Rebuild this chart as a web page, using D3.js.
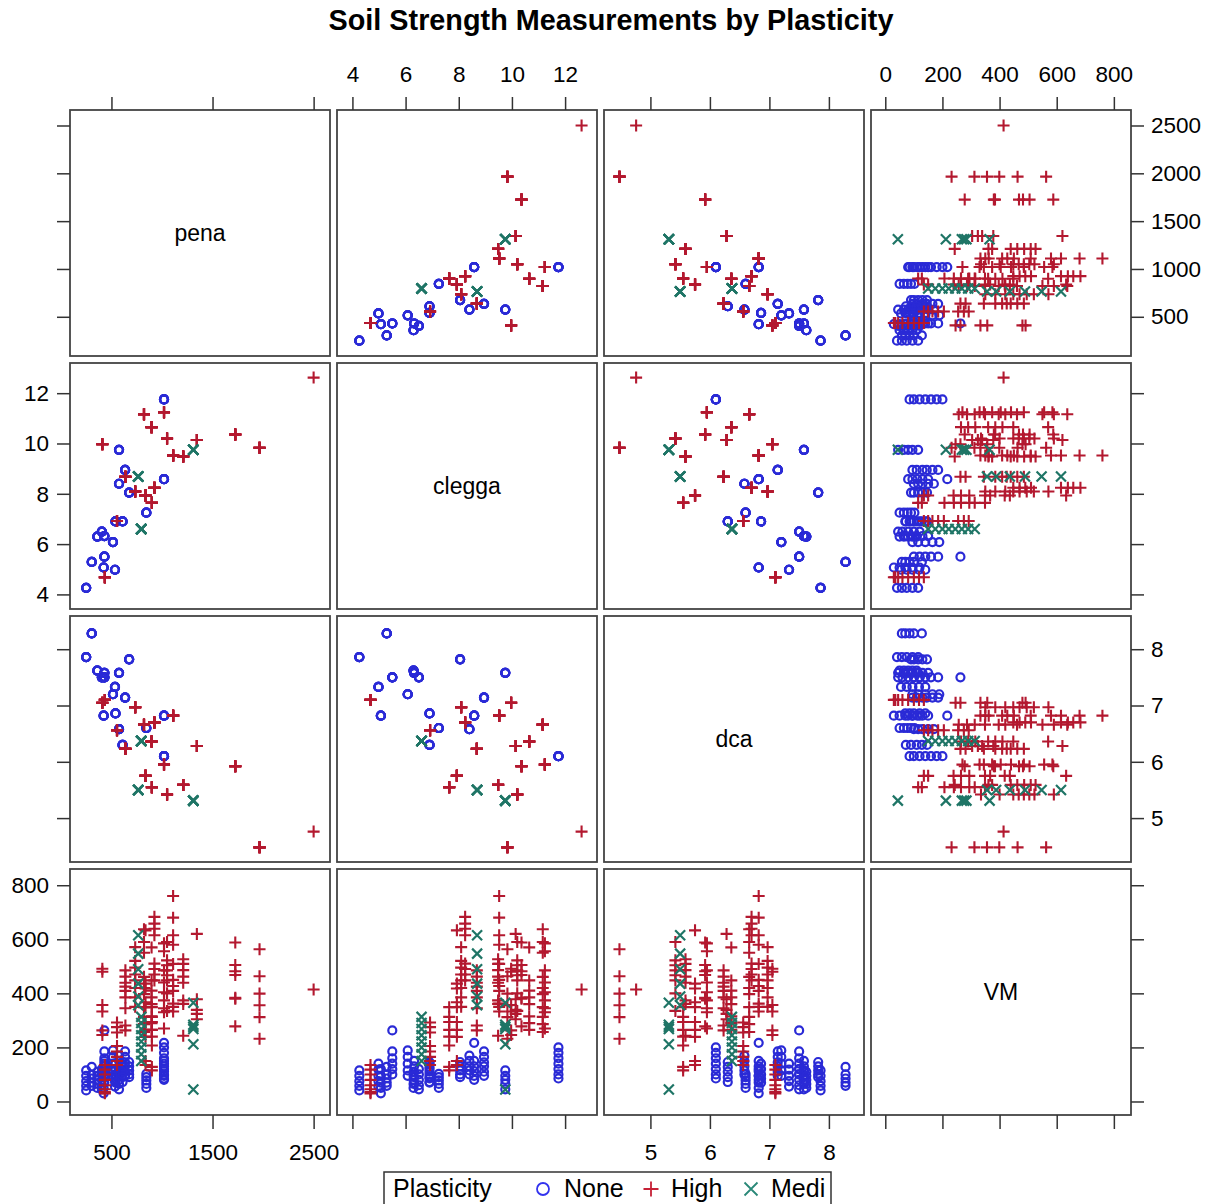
<!DOCTYPE html>
<html>
<head>
<meta charset="utf-8">
<script src="https://cdn.jsdelivr.net/npm/d3@7"></script>
<style>
  body { margin: 0; background: #fff; }
  text { font-family: "Liberation Sans", Arial, sans-serif; }
</style>
</head>
<body>
<script>
// ---------------------------------------------------------------
// Data: one entry per soil site, VM holds the repeated vane readings
// ---------------------------------------------------------------
var varNames = ["pena", "clegga", "dca", "VM"];
var groups = ["None", "High", "Medi"];

var sitePlast = [
  "None","None","None","None","None","None","None","None","None",
  "None","None","None","None","None","None","None","None","None",
  "High","High","High","High","High","High","High","High","High",
  "High","High","High","High","High","High","High","High","High",
  "Medi","Medi","Medi"
];
var sitePena = [
  1020, 1020, 845, 675, 575, 635, 575, 610, 540,
  535, 423, 430, 305, 250, 515, 430, 405, 360,
  2500, 1965, 1725, 1345, 1210, 1110, 1050, 1020, 897,
  822, 900, 925, 837, 735, 638, 555, 435, 410,
  1310, 795, 765
];
var siteClegga = [
  8.58, 11.75, 7.25, 8.05, 8.40, 8.95, 9.75, 6.90, 6.90,
  4.98, 5.07, 5.50, 5.29, 4.26, 6.08, 6.32, 6.50, 6.30,
  12.62, 9.83, 10.36, 10.14, 9.48, 9.52, 10.20, 11.24, 10.65,
  11.16, 7.64, 8.24, 7.93, 8.09, 8.68, 6.92, 4.68, 9.97,
  9.75, 6.60, 8.69
];
var siteDca = [
  6.82, 6.10, 6.60, 7.82, 6.58, 7.14, 7.58, 6.30, 6.86,
  7.33, 6.82, 7.50, 8.28, 7.86, 7.20, 7.58, 7.50, 7.62,
  4.76, 4.48, 5.92, 6.28, 5.59, 6.82, 5.42, 5.95, 6.36,
  6.66, 5.55, 6.70, 5.75, 6.97, 6.23, 6.56, 7.10, 7.05,
  5.31, 6.37, 5.50
];
var siteVM = [
  [217, 150, 130, 112, 95, 80],
  [200, 180, 160, 140, 120, 100, 85],
  [102, 90, 78, 65, 50],
  [146, 130, 115, 100, 90],
  [170, 150, 130, 115, 100],
  [185, 165, 145, 130, 110, 95],
  [115, 95, 80, 65, 45],
  [146, 128, 110, 90, 72],
  [140, 120, 100, 85, 70],
  [140, 118, 95, 75, 55],
  [120, 95, 70, 50, 30],
  [263, 185, 160, 140, 120, 100],
  [128, 100, 85, 70, 58],
  [115, 95, 75, 58, 41],
  [189, 165, 140, 115, 95],
  [150, 130, 110, 90, 70],
  [120, 100, 80, 60, 45],
  [110, 95, 80, 65, 50],
  [414],
  [563, 463, 399, 356, 312, 232],
  [278, 380, 384, 468, 482, 505, 588],
  [304, 324, 339, 378, 620],
  [243, 361, 374, 439, 462, 486, 509, 526],
  [333, 350, 362, 409, 427, 450, 509, 580, 615, 680, 760],
  [335, 400, 448, 467, 485, 504, 522, 590],
  [270, 330, 345, 374, 404, 440, 485, 556, 585],
  [265, 290, 315, 360, 385, 410, 448, 570],
  [257, 286, 313, 349, 397, 420, 461, 550, 590, 637],
  [115, 128, 207, 240, 265, 294, 313, 349],
  [448, 470, 490, 510, 615, 639, 658, 683],
  [135, 150, 239, 265, 294, 349, 367, 418, 436, 633],
  [350, 385, 420, 448, 470, 495, 520, 571],
  [263, 281, 345, 385, 409, 425, 439, 462, 485],
  [135, 150, 165, 185, 205, 255, 275, 292],
  [30, 35, 45, 60, 80, 100, 118, 135],
  [246, 263, 333, 357, 480, 491],
  [44, 212, 268, 276, 284, 365],
  [150, 175, 200, 222, 245, 268, 290, 313],
  [356, 388, 436, 489, 547, 615]
];

// axis ranges and tick values
var varDomains = [[90, 2662], [3.42, 13.2], [4.22, 8.59], [-50, 860]];
var ticksX = [[500, 1500, 2500], [4, 6, 8, 10, 12], [5, 6, 7, 8], [0, 200, 400, 600, 800]];
var ticksY = [[500, 1000, 1500, 2000, 2500], [4, 6, 8, 10, 12], [5, 6, 7, 8], [0, 200, 400, 600, 800]];

// expand sites into observations
var data = [];
sitePlast.forEach(function(p, k) {
    siteVM[k].forEach(function(v) {
        data.push({ Plasticity: p, pena: sitePena[k], clegga: siteClegga[k], dca: siteDca[k], VM: v });
    });
});

//================================================================
//  LAYOUT
//================================================================
var W = 1214, H = 1204;
var mLeft = 70, mTop = 110, pw = 260, ph = 246, gap = 7;

var colors = { None: "#2a2ad6", High: "#b3182f", Medi: "#1f7566" };

var svg = d3.select("body").append("svg")
    .attr("width", W)
    .attr("height", H);

svg.append("text")
    .attr("x", 611)
    .attr("y", 30)
    .attr("text-anchor", "middle")
    .style("font-size", "28.8px")
    .style("font-weight", "bold")
    .text("Soil Strength Measurements by Plasticity");

var sx = varDomains.map(function(d) { return d3.scaleLinear().domain(d).range([0, pw]); });
var sy = varDomains.map(function(d) { return d3.scaleLinear().domain(d).range([ph, 0]); });

function px(j) { return mLeft + j * (pw + gap); }
function py(i) { return mTop + i * (ph + gap); }

// marker drawing
function drawMarker(sel, grp) {
    if (grp == "None") {
        sel.append("circle").attr("r", 4)
            .attr("fill", "none").attr("stroke", colors.None).attr("stroke-width", 2.2);
    } else if (grp == "High") {
        sel.append("path").attr("d", "M-6,0H6M0,-6V6")
            .attr("fill", "none").attr("stroke", colors.High).attr("stroke-width", 2.1);
    } else {
        sel.append("path").attr("d", "M-5,-5L5,5M-5,5L5,-5")
            .attr("fill", "none").attr("stroke", colors.Medi).attr("stroke-width", 2.2);
    }
}

// panels
for (var i = 0; i < 4; i++) {
    for (var j = 0; j < 4; j++) {
        var g = svg.append("g").attr("transform", "translate(" + px(j) + "," + py(i) + ")");
        if (i == j) {
            g.append("text")
                .attr("x", pw / 2)
                .attr("y", ph / 2)
                .attr("dy", "0.35em")
                .attr("text-anchor", "middle")
                .style("font-size", "23px")
                .text(varNames[i]);
        } else {
            groups.forEach(function(grp) {
                var pts = data.filter(function(d) { return d.Plasticity == grp; });
                g.selectAll(null)
                    .data(pts)
                    .join("g")
                    .attr("transform", function(d) {
                        return "translate(" + sx[j](d[varNames[j]]) + "," + sy[i](d[varNames[i]]) + ")";
                    })
                    .each(function() { drawMarker(d3.select(this), grp); });
            });
        }
        g.append("rect")
            .attr("width", pw)
            .attr("height", ph)
            .attr("fill", "none")
            .attr("stroke", "#444")
            .attr("stroke-width", 1.8);
    }
}

// axes
function styleAxis(g) {
    g.select(".domain").remove();
    g.selectAll(".tick line").attr("stroke", "#333").attr("stroke-width", 1.5);
    g.selectAll(".tick text").attr("fill", "#000").style("font-size", "22.5px")
        .style("font-family", "'Liberation Sans', Arial, sans-serif");
}

var fmt = d3.format("d");
var noLab = function() { return ""; };

for (var k = 0; k < 4; k++) {
    var ax;
    ax = d3.axisTop(sx[k]).tickValues(ticksX[k]).tickSize(13).tickPadding(15).tickSizeOuter(0)
        .tickFormat(k % 2 == 0 ? noLab : fmt);
    svg.append("g").attr("transform", "translate(" + px(k) + "," + mTop + ")").call(ax).call(styleAxis);

    ax = d3.axisBottom(sx[k]).tickValues(ticksX[k]).tickSize(14).tickPadding(15).tickSizeOuter(0)
        .tickFormat(k % 2 == 1 ? noLab : fmt);
    svg.append("g").attr("transform", "translate(" + px(k) + "," + (py(3) + ph) + ")").call(ax).call(styleAxis);

    ax = d3.axisLeft(sy[k]).tickValues(ticksY[k]).tickSize(13).tickPadding(8).tickSizeOuter(0)
        .tickFormat(k % 2 == 0 ? noLab : fmt);
    svg.append("g").attr("transform", "translate(" + mLeft + "," + py(k) + ")").call(ax).call(styleAxis);

    ax = d3.axisRight(sy[k]).tickValues(ticksY[k]).tickSize(13).tickPadding(7).tickSizeOuter(0)
        .tickFormat(k % 2 == 1 ? noLab : fmt);
    svg.append("g").attr("transform", "translate(" + (px(3) + pw) + "," + py(k) + ")").call(ax).call(styleAxis);
}

// legend
var leg = svg.append("g");
leg.append("rect")
    .attr("x", 384).attr("y", 1172)
    .attr("width", 447).attr("height", 44)
    .attr("fill", "#fff").attr("stroke", "#333").attr("stroke-width", 1.5);
leg.append("text").attr("x", 393).attr("y", 1197).style("font-size", "25px").text("Plasticity");

var legX = [543, 651, 751];
var legTextX = [564, 671, 771];
groups.forEach(function(grp, n) {
    var m = leg.append("g").attr("transform", "translate(" + legX[n] + ",1189)");
    if (grp == "None") {
        m.append("circle").attr("r", 6).attr("fill", "none").attr("stroke", "#3333ee").attr("stroke-width", 1.8);
    } else if (grp == "High") {
        m.append("path").attr("d", "M-7.5,0H7.5M0,-7.5V7.5").attr("fill", "none")
            .attr("stroke", "#c62136").attr("stroke-width", 1.8);
    } else {
        m.append("path").attr("d", "M-6.5,-6.5L6.5,6.5M-6.5,6.5L6.5,-6.5").attr("fill", "none")
            .attr("stroke", "#2a8878").attr("stroke-width", 1.8);
    }
    leg.append("text").attr("x", legTextX[n]).attr("y", 1197).style("font-size", "25px").text(grp);
});
</script>
</body>
</html>
